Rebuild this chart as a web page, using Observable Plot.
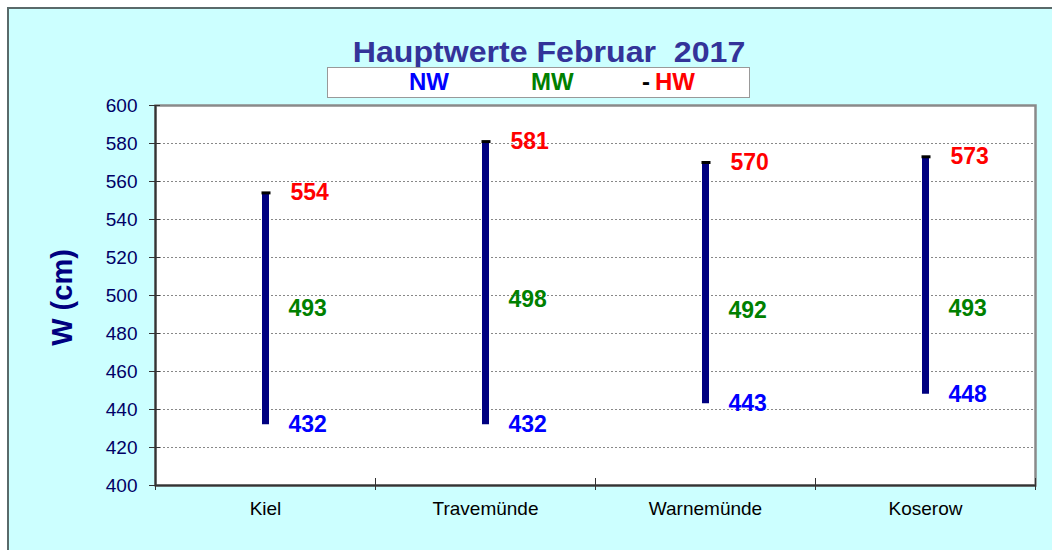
<!DOCTYPE html>
<html>
<head>
<meta charset="utf-8">
<script src="https://cdn.jsdelivr.net/npm/d3@7"></script>
<script src="https://cdn.jsdelivr.net/npm/@observablehq/plot@0.6"></script>
<style>
  html, body { margin: 0; padding: 0; background: #fff; }
  #wrap { position: relative; width: 1052px; height: 550px; overflow: hidden; background: #fff;
          font-family: "Liberation Sans", Arial, sans-serif; }
  #bg { position: absolute; left: 7px; top: 7px; width: 1060px; height: 560px; background: #CCFFFF;
        border-left: 2px solid #5a6a6a; border-top: 2px solid #5a6a6a; box-sizing: border-box; }
  #chart { position: absolute; left: 0; top: 0; }
  #title { position: absolute; left: 0; width: 1098px; top: 35px; text-align: center; white-space: pre;
           font-size: 30px; font-weight: bold; color: #333399; line-height: 34px;
           transform: scaleX(1.07); transform-origin: 549px 0; }
  #legend { position: absolute; left: 327px; top: 67px; width: 423px; height: 31px; background: #fff;
            border: 1px solid #999; box-sizing: border-box; font-weight: bold; font-size: 24px; }
  #legend span { position: absolute; top: 1px; line-height: 26px; }
</style>
</head>
<body>
<div id="wrap">
  <div id="bg"></div>
  <div id="chart"></div>
  <div id="title"></div>
  <div id="legend"></div>
</div>
<script>
const stations = ["Kiel", "Travemünde", "Warnemünde", "Koserow"];
const NW = [432, 432, 443, 448];
const MW = [493, 498, 492, 493];
const HW = [554, 581, 570, 573];
const yTicks = [400, 420, 440, 460, 480, 500, 520, 540, 560, 580, 600];
const titleText = "Hauptwerte Februar  2017";
const legendItems = [
  {label: "NW", color: "#0000FF"},
  {label: "MW", color: "#008000"},
  {label: "HW", color: "#FF0000"}
];

document.getElementById("title").textContent = titleText;
const leg = document.getElementById("legend");
const legPos = [81, 203, 327];
legendItems.forEach((it, i) => {
  const s = document.createElement("span");
  s.style.left = legPos[i] + "px";
  s.style.color = it.color;
  s.textContent = it.label;
  leg.appendChild(s);
  if (it.label === "HW") {
    const d = document.createElement("span");
    d.style.left = (legPos[i] - 13) + "px";
    d.style.color = "#000";
    d.textContent = "-";
    leg.appendChild(d);
  }
});

const data = stations.map((s, i) => ({station: s, x: i + 0.5, NW: NW[i], MW: MW[i], HW: HW[i]}));
const bounds = d3.range(stations.length + 1);
const centers = data.map(d => d.x);

const capSymbol = { draw(ctx) { ctx.rect(-4, -1.5, 9, 3); } };
const font = "Liberation Sans, Arial, sans-serif";

const chart = Plot.plot({
  width: 1052,
  height: 550,
  marginLeft: 155,
  marginRight: 17,
  marginTop: 105,
  marginBottom: 65,
  style: {background: "transparent", fontFamily: font, overflow: "visible"},
  x: {domain: [0, stations.length], axis: null},
  y: {domain: [400, 600], axis: null},
  marks: [
    Plot.frame({fill: "white", stroke: "#8a8a8a", strokeWidth: 2.5}),
    Plot.gridY(yTicks.slice(1, -1), {stroke: "#888", strokeOpacity: 1, strokeDasharray: "2,2", strokeWidth: 1}),
    Plot.ruleY([400], {stroke: "#333", strokeWidth: 2}),
    Plot.ruleX([0], {stroke: "#333", strokeWidth: 2}),
    Plot.axisY({ticks: yTicks, tickSize: 6, tickPadding: 12, fontSize: 19, label: null, stroke: "#333", fill: "#000066"}),
    Plot.axisY({ticks: yTicks, tickSize: -5, tickFormat: () => "", label: null, stroke: "#333"}),
    Plot.axisX({ticks: bounds, tickSize: 5, tickFormat: () => "", label: null, stroke: "#333"}),
    Plot.axisX({ticks: bounds, tickSize: -7, tickFormat: () => "", label: null, stroke: "#333"}),
    Plot.axisX({ticks: centers, tickSize: 0, tickPadding: 16, tickFormat: v => stations[Math.floor(v)], fontSize: 19, fill: "#000", label: null}),
    Plot.ruleX(data, {x: "x", y1: "NW", y2: "HW", stroke: "#000080", strokeWidth: 7}),
    Plot.dot(data, {x: "x", y: "HW", symbol: capSymbol, fill: "#000", stroke: "none"}),
    Plot.text(data, {x: "x", y: "HW", text: d => String(d.HW), dx: 25, textAnchor: "start", fill: "#FF0000", fontSize: 23, fontWeight: "bold"}),
    Plot.text(data, {x: "x", y: "MW", text: d => String(d.MW), dx: 23, textAnchor: "start", fill: "#008000", fontSize: 23, fontWeight: "bold"}),
    Plot.text(data, {x: "x", y: "NW", text: d => String(d.NW), dx: 23, textAnchor: "start", fill: "#0000FF", fontSize: 23, fontWeight: "bold"}),
    Plot.text(["W (cm)"], {frameAnchor: "left", dx: -93, dy: 2, rotate: -90, textAnchor: "middle", fontSize: 29, fontWeight: "bold", fill: "#000080", text: d => d})
  ]
});
document.getElementById("chart").appendChild(chart);
</script>
</body>
</html>
